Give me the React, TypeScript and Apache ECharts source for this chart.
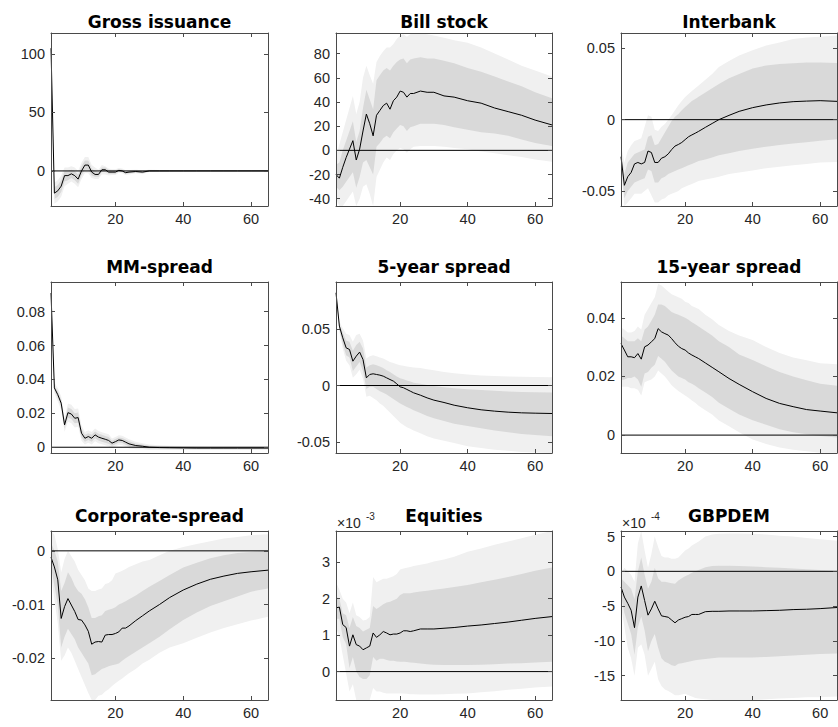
import React, { useEffect, useRef } from "react";
import * as echarts from "echarts";

const X = [1, 2, 3, 4, 5, 6, 7, 8, 9, 10, 11, 12, 13, 14, 15, 16, 17, 18, 19, 20, 21, 22, 23, 24, 26, 28, 30, 33, 36, 40, 44, 48, 52, 56, 60, 65];
const X_TICKS = [20, 40, 60];

// ---- Gross issuance
const grossMed = [105, -19, -17, -13, -4, -4, -2.5, -4, -7, 0, 5, 5, -1, -3, -3, 1, 1, -1, -1, -1, 0.5, 0, -1.5, -1, -0.5, -1, 0, 0, 0, 0, 0, 0, 0, 0, 0, 0];
const grossHi68 = [105, -14, -12, -8, 0, 0, 1, 0, -3, 4, 9, 9, 2, 0, -1, 3, 3, 1, 0.5, 0.5, 1.5, 1, -0.5, 0, 0.3, 0, 0.5, 0.4, 0.3, 0.2, 0.2, 0.1, 0.1, 0.1, 0.1, 0.1];
const grossLo68 = [105, -24, -22, -18, -9, -8, -6, -8, -11, -4, 1, 1, -4, -5, -5, -1, -1, -2.5, -2.5, -2.5, -0.5, -1, -2.5, -2, -1.3, -2, -0.5, -0.4, -0.3, -0.2, -0.2, -0.1, -0.1, -0.1, -0.1, -0.1];
const grossHi90 = [105, -10, -8, -4, 3, 3, 4, 3, 0, 7, 12, 12, 5, 3, 1, 5, 4, 2, 1.5, 1.5, 2.5, 2, 0.5, 0.8, 1, 0.6, 1, 0.8, 0.6, 0.4, 0.3, 0.2, 0.2, 0.2, 0.2, 0.2];
const grossLo90 = [105, -28, -26, -22, -13, -11, -9, -11, -14, -7, -2, -2, -6, -7, -7, -3, -3, -4, -3.5, -3.5, -1.5, -2, -3.5, -3, -2, -2.6, -1, -0.8, -0.6, -0.4, -0.3, -0.2, -0.2, -0.2, -0.2, -0.2];
const grossTicks = [0, 50, 100];

// ---- Bill stock
const billMed = [-20, -23, -14, -6, 1, 8, -8, 1, 16, 30, 22, 12, 29, 33, 37, 39, 34, 41, 44, 49, 48, 44, 47, 47, 49, 48, 48, 45, 44, 41, 39, 35, 32, 29, 25, 21];
const billHi68 = [-12, -10, 0, 8, 16, 24, 7, 16, 35, 50, 42, 34, 58, 62, 66, 68, 66, 70, 73, 75, 76, 72, 75, 76, 77, 76, 76, 74, 72, 68, 65, 61, 57, 53, 48, 43];
const billLo68 = [-30, -33, -30, -26, -22, -18, -31, -22, -10, -8, -14, -20, 3, 6, 10, 12, 10, 15, 18, 21, 20, 16, 19, 20, 22, 22, 22, 21, 19, 17, 15, 14, 12, 9, 6, 3.5];
const billHi90 = [-5, 5, 15, 25, 35, 45, 30, 40, 60, 70, 62, 55, 73, 78, 82, 85, 85, 88, 92, 95, 96, 94, 96, 97, 97, 96, 95, 93, 91, 89, 85, 80, 75, 70, 66, 61];
const billLo90 = [-40, -46, -46, -42, -38, -34, -46, -40, -30, -28, -36, -46, -22, -16, -10, -6, -8, -3, 0, 2, 1, -2, 1, 3, 3.5, 3.5, 3.5, 3, 2, 1, -1, -2.5, -4, -5.5, -7.5, -9.5];
const billTicks = [-40, -20, 0, 20, 40, 60, 80];

// ---- Interbank
const ibMed = [-0.026, -0.046, -0.04, -0.037, -0.031, -0.03, -0.031, -0.03, -0.022, -0.023, -0.03, -0.03, -0.027, -0.026, -0.024, -0.021, -0.0185, -0.0174, -0.016, -0.014, -0.012, -0.0107, -0.0095, -0.0082, -0.0054, -0.0027, 0, 0.003, 0.0058, 0.0084, 0.0103, 0.0117, 0.0126, 0.013, 0.0133, 0.0128];
const ibHi68 = [-0.022, -0.038, -0.03, -0.027, -0.024, -0.023, -0.022, -0.021, -0.012, -0.011, -0.018, -0.017, -0.013, -0.009, -0.005, -0.001, 0.002, 0.004, 0.0065, 0.0088, 0.011, 0.013, 0.0145, 0.016, 0.019, 0.022, 0.025, 0.029, 0.032, 0.0358, 0.038, 0.039, 0.0395, 0.04, 0.04, 0.0397];
const ibLo68 = [-0.03, -0.055, -0.05, -0.047, -0.044, -0.043, -0.042, -0.041, -0.035, -0.036, -0.044, -0.044, -0.041, -0.04, -0.038, -0.037, -0.036, -0.035, -0.034, -0.033, -0.032, -0.031, -0.03, -0.029, -0.028, -0.0265, -0.025, -0.0235, -0.022, -0.0204, -0.019, -0.0177, -0.0167, -0.0158, -0.0148, -0.0138];
const ibHi90 = [-0.018, -0.03, -0.022, -0.018, -0.015, -0.014, -0.013, -0.005, 0.003, 0.002, -0.007, -0.008, -0.005, -0.003, 0, 0.003, 0.0065, 0.01, 0.013, 0.0158, 0.018, 0.02, 0.022, 0.024, 0.028, 0.032, 0.0369, 0.041, 0.045, 0.0486, 0.052, 0.054, 0.0565, 0.0575, 0.058, 0.059];
const ibLo90 = [-0.034, -0.0605, -0.058, -0.055, -0.052, -0.052, -0.052, -0.05, -0.048, -0.053, -0.058, -0.058, -0.056, -0.055, -0.053, -0.052, -0.051, -0.05, -0.048, -0.047, -0.046, -0.045, -0.044, -0.043, -0.042, -0.041, -0.04, -0.038, -0.037, -0.0356, -0.034, -0.033, -0.032, -0.031, -0.03, -0.0297];
const ibTicks = [-0.05, 0, 0.05];

// ---- MM-spread
const mmMed = [0.091, 0.035, 0.031, 0.026, 0.0132, 0.0204, 0.0196, 0.0171, 0.0175, 0.0083, 0.0053, 0.0063, 0.0053, 0.0073, 0.006, 0.0053, 0.0047, 0.004, 0.0024, 0.0033, 0.0043, 0.004, 0.003, 0.002, 0.001, 0.0006, 0, -0.0002, -0.0003, -0.0004, -0.0005, -0.0005, -0.0005, -0.0005, -0.0005, -0.0005];
const mmHi68 = [0.091, 0.0365, 0.033, 0.028, 0.0152, 0.0234, 0.0226, 0.0201, 0.0205, 0.0108, 0.0073, 0.0083, 0.0073, 0.0093, 0.008, 0.0073, 0.0067, 0.006, 0.0039, 0.0048, 0.0058, 0.0055, 0.0045, 0.0035, 0.0022, 0.0016, 0.0009, 0.0006, 0.0004, 0.0002, 0.0001, 0.0001, 0.0001, 0.0001, 0.0001, 0.0001];
const mmLo68 = [0.091, 0.0335, 0.029, 0.024, 0.0112, 0.0174, 0.0166, 0.0141, 0.0145, 0.0058, 0.0033, 0.0043, 0.0033, 0.0053, 0.004, 0.0033, 0.0027, 0.002, 0.0009, 0.0018, 0.0028, 0.0025, 0.0015, 0.0005, -0.0002, -0.0004, -0.0009, -0.001, -0.001, -0.001, -0.0011, -0.0011, -0.0011, -0.0011, -0.0011, -0.0011];
const mmHi90 = [0.091, 0.038, 0.035, 0.03, 0.0172, 0.0258, 0.025, 0.0225, 0.0229, 0.0128, 0.009, 0.01, 0.009, 0.011, 0.0096, 0.0089, 0.0083, 0.0076, 0.0052, 0.0061, 0.0071, 0.0068, 0.0058, 0.0047, 0.0032, 0.0024, 0.0016, 0.0012, 0.0009, 0.0007, 0.0006, 0.0005, 0.0005, 0.0005, 0.0005, 0.0005];
const mmLo90 = [0.091, 0.032, 0.027, 0.022, 0.0092, 0.015, 0.0142, 0.0117, 0.0121, 0.0038, 0.0016, 0.0026, 0.0016, 0.0036, 0.0024, 0.0017, 0.0011, 0.0004, -0.0004, 0.0005, 0.0015, 0.0012, 0.0002, -0.0007, -0.0012, -0.0012, -0.0016, -0.0016, -0.0016, -0.0016, -0.0016, -0.0016, -0.0016, -0.0016, -0.0016, -0.0016];
const mmTicks = [0, 0.02, 0.04, 0.06, 0.08];

// ---- 5-year spread
const y5Med = [0.0824, 0.0528, 0.0424, 0.0335, 0.032, 0.0216, 0.0261, 0.0297, 0.0231, 0.0068, 0.0098, 0.0104, 0.0098, 0.0092, 0.0083, 0.0068, 0.0053, 0.0039, 0.0015, -0.0012, -0.002, -0.0035, -0.005, -0.0065, -0.0086, -0.011, -0.013, -0.0151, -0.0175, -0.0198, -0.0216, -0.0228, -0.0237, -0.0243, -0.0246, -0.0249];
const y5Hi68 = [0.0824, 0.055, 0.047, 0.04, 0.039, 0.031, 0.036, 0.039, 0.033, 0.016, 0.018, 0.019, 0.018, 0.017, 0.0155, 0.0135, 0.012, 0.01, 0.008, 0.0065, 0.0055, 0.0045, 0.0035, 0.0025, 0.0015, 0.0005, -0.0005, -0.0015, -0.0025, -0.0033, -0.004, -0.0047, -0.0053, -0.0058, -0.0061, -0.0063];
const y5Lo68 = [0.0824, 0.05, 0.037, 0.027, 0.025, 0.013, 0.017, 0.021, 0.013, -0.003, -0.001, -0.001, -0.003, -0.005, -0.0065, -0.008, -0.01, -0.012, -0.014, -0.016, -0.0175, -0.019, -0.0205, -0.022, -0.0245, -0.027, -0.029, -0.0315, -0.034, -0.036, -0.038, -0.04, -0.0415, -0.043, -0.044, -0.045];
const y5Hi90 = [0.0824, 0.057, 0.051, 0.046, 0.045, 0.039, 0.045, 0.046, 0.04, 0.024, 0.026, 0.027, 0.026, 0.025, 0.024, 0.0225, 0.021, 0.02, 0.019, 0.018, 0.0175, 0.017, 0.0165, 0.016, 0.0155, 0.0145, 0.0135, 0.012, 0.011, 0.0098, 0.009, 0.0085, 0.008, 0.0077, 0.0075, 0.0074];
const y5Lo90 = [0.0824, 0.048, 0.033, 0.022, 0.018, 0.007, 0.01, 0.014, 0.006, -0.01, -0.009, -0.011, -0.013, -0.016, -0.018, -0.021, -0.024, -0.027, -0.03, -0.033, -0.035, -0.037, -0.0385, -0.04, -0.0425, -0.045, -0.047, -0.049, -0.051, -0.054, -0.0555, -0.057, -0.058, -0.059, -0.0595, -0.06];
const y5Ticks = [-0.05, 0, 0.05];

// ---- 15-year spread
const y15Med = [0.0312, 0.029, 0.0267, 0.0267, 0.0264, 0.0278, 0.0259, 0.0301, 0.0307, 0.0318, 0.0329, 0.0363, 0.0352, 0.0346, 0.0341, 0.0329, 0.0315, 0.0303, 0.0295, 0.029, 0.028, 0.0273, 0.0267, 0.0261, 0.0246, 0.0231, 0.0216, 0.0193, 0.0173, 0.0148, 0.0125, 0.0108, 0.0097, 0.0087, 0.0082, 0.0076];
const y15Hi68 = [0.034, 0.033, 0.032, 0.032, 0.032, 0.033, 0.032, 0.036, 0.037, 0.039, 0.041, 0.0445, 0.0445, 0.044, 0.043, 0.042, 0.0415, 0.041, 0.0405, 0.04, 0.0393, 0.0385, 0.0378, 0.037, 0.0355, 0.034, 0.032, 0.03, 0.0275, 0.0256, 0.0235, 0.0215, 0.02, 0.0187, 0.0175, 0.0168];
const y15Lo68 = [0.0187, 0.019, 0.0195, 0.0195, 0.02, 0.019, 0.0165, 0.021, 0.0215, 0.023, 0.024, 0.027, 0.026, 0.025, 0.0235, 0.022, 0.021, 0.02, 0.0195, 0.019, 0.018, 0.0175, 0.0168, 0.016, 0.0145, 0.013, 0.011, 0.009, 0.007, 0.0051, 0.0035, 0.002, 0.001, 0.0003, -0.0003, -0.0008];
const y15Hi90 = [0.0367, 0.036, 0.035, 0.035, 0.0355, 0.037, 0.036, 0.041, 0.043, 0.045, 0.047, 0.0515, 0.051, 0.05, 0.049, 0.048, 0.0475, 0.047, 0.0465, 0.0455, 0.045, 0.044, 0.0435, 0.043, 0.041, 0.0395, 0.0375, 0.0355, 0.034, 0.0324, 0.03, 0.028, 0.0265, 0.0255, 0.0245, 0.0242];
const y15Lo90 = [0.0165, 0.0165, 0.0165, 0.016, 0.016, 0.0155, 0.0135, 0.018, 0.0185, 0.019, 0.02, 0.022, 0.021, 0.02, 0.0185, 0.017, 0.016, 0.015, 0.0143, 0.0135, 0.0127, 0.0118, 0.011, 0.01, 0.0085, 0.007, 0.005, 0.003, 0.001, -0.0015, -0.003, -0.0042, -0.005, -0.0055, -0.006, -0.0061];
const y15Ticks = [0, 0.02, 0.04];

// ---- Corporate-spread
const corpMed = [-0.0012, -0.003, -0.0054, -0.0126, -0.0104, -0.0089, -0.0101, -0.0113, -0.0128, -0.0129, -0.0138, -0.015, -0.0174, -0.017, -0.0169, -0.017, -0.0157, -0.0156, -0.0156, -0.0154, -0.0151, -0.0144, -0.0144, -0.014, -0.013, -0.0121, -0.0112, -0.01, -0.0087, -0.0073, -0.0062, -0.0053, -0.0047, -0.0042, -0.0039, -0.0036];
const corpHi68 = [0.0015, 0, -0.002, -0.0075, -0.006, -0.004, -0.005, -0.0065, -0.0075, -0.008, -0.009, -0.0105, -0.0125, -0.0125, -0.0122, -0.012, -0.0112, -0.011, -0.0108, -0.0105, -0.01, -0.0097, -0.0094, -0.009, -0.0083, -0.0075, -0.0067, -0.0056, -0.0045, -0.0031, -0.0022, -0.0014, -0.0008, -0.0004, -0.0002, 0];
const corpLo68 = [-0.003, -0.0065, -0.01, -0.018, -0.016, -0.0145, -0.0155, -0.0165, -0.018, -0.019, -0.02, -0.021, -0.0232, -0.023, -0.0225, -0.022, -0.0218, -0.0215, -0.0213, -0.0212, -0.021, -0.0205, -0.02, -0.0196, -0.0188, -0.018, -0.0172, -0.016, -0.0146, -0.0129, -0.0115, -0.0103, -0.0094, -0.0085, -0.0076, -0.007];
const corpHi90 = [0.0037, 0.003, 0.0003, -0.004, -0.0015, 0, -0.001, -0.002, -0.0035, -0.0045, -0.0055, -0.007, -0.0075, -0.0075, -0.0072, -0.007, -0.0062, -0.006, -0.0055, -0.0042, -0.004, -0.0037, -0.0034, -0.003, -0.0025, -0.002, -0.0017, -0.0008, 0, 0.0007, 0.0013, 0.0018, 0.0023, 0.0026, 0.0029, 0.0031];
const corpLo90 = [-0.0045, -0.009, -0.0135, -0.0205, -0.0195, -0.018, -0.019, -0.0205, -0.022, -0.0235, -0.025, -0.0265, -0.0278, -0.0278, -0.027, -0.0268, -0.0262, -0.0258, -0.0252, -0.0247, -0.0242, -0.0238, -0.0233, -0.0228, -0.022, -0.021, -0.0203, -0.019, -0.018, -0.0172, -0.0162, -0.0152, -0.0144, -0.0137, -0.013, -0.0123];
const corpTicks = [-0.02, -0.01, 0];

// ---- Equities (in units of 1e-3)
const eqMed = [1.75, 1.77, 1.29, 1.21, 0.7, 1.01, 0.74, 0.7, 0.6, 0.65, 0.7, 1.06, 0.94, 1.01, 1.1, 1.06, 1.01, 1.03, 1.03, 1.06, 1.12, 1.12, 1.1, 1.12, 1.17, 1.17, 1.17, 1.19, 1.21, 1.25, 1.28, 1.32, 1.36, 1.41, 1.46, 1.51];
const eqHi68 = [2.06, 2.0, 1.6, 1.55, 1.2, 1.5, 1.25, 1.2, 1.1, 1.15, 1.2, 1.8, 1.72, 1.78, 1.85, 1.9, 1.92, 1.96, 2.0, 2.1, 2.15, 2.15, 2.15, 2.17, 2.2, 2.22, 2.25, 2.28, 2.32, 2.38, 2.45, 2.52, 2.6, 2.68, 2.77, 2.86];
const eqLo68 = [1.45, 1.45, 0.95, 0.75, 0.1, 0.4, 0, -0.15, -0.2, -0.2, -0.1, 0.4, 0.3, 0.35, 0.35, 0.32, 0.3, 0.3, 0.28, 0.27, 0.27, 0.26, 0.25, 0.24, 0.22, 0.2, 0.19, 0.18, 0.18, 0.18, 0.19, 0.2, 0.22, 0.23, 0.25, 0.27];
const eqHi90 = [2.45, 2.25, 2.0, 1.9, 1.6, 1.9, 1.55, 1.5, 1.4, 1.42, 1.5, 2.6, 2.45, 2.5, 2.55, 2.55, 2.58, 2.62, 2.68, 2.8, 2.83, 2.85, 2.87, 2.9, 2.93, 2.97, 3.02, 3.08, 3.15, 3.29, 3.38, 3.48, 3.57, 3.66, 3.76, 3.86];
const eqLo90 = [1.2, 0.95, 0.45, -0.05, -0.55, -0.35, -0.78, -0.78, -0.78, -0.78, -0.78, -0.45, -0.55, -0.55, -0.58, -0.6, -0.6, -0.6, -0.6, -0.6, -0.6, -0.61, -0.62, -0.62, -0.63, -0.63, -0.63, -0.62, -0.61, -0.6, -0.57, -0.54, -0.5, -0.47, -0.44, -0.41];
const eqTicks = [0, 1, 2, 3];

// ---- GBPDEM (in units of 1e-4)
const fxMed = [-2.25, -3.7, -4.6, -5.6, -8.1, -3.7, -2.1, -4.2, -6.3, -5.4, -4.3, -5.4, -6.4, -6.5, -6.6, -7.0, -7.4, -7.0, -6.8, -6.6, -6.5, -6.2, -6.2, -6.2, -5.8, -5.75, -5.75, -5.7, -5.7, -5.7, -5.65, -5.6, -5.5, -5.45, -5.36, -5.2];
const fxHi68 = [-1.0, -1.5, -2.0, -2.5, -4.0, 0, 2.0, -0.5, -2.5, -1.5, 0.5, -1.0, -1.5, -1.5, -1.6, -1.7, -1.8, -1.3, -1.0, -0.7, -0.5, -0.2, 0, 0.2, 0.6, 0.75, 0.8, 0.8, 0.75, 0.7, 0.6, 0.5, 0.4, 0.3, 0.2, 0.1];
const fxLo68 = [-3.5, -6.0, -7.5, -9.0, -12.0, -8.0, -6.5, -8.5, -11.5, -10.0, -9.0, -11.0, -12.5, -13.0, -13.2, -13.5, -13.6, -13.3, -13.2, -13.1, -13.0, -12.9, -12.8, -12.7, -12.6, -12.5, -12.4, -12.4, -12.4, -12.4, -12.3, -12.2, -12.1, -12.0, -11.9, -11.8];
const fxHi90 = [-0.3, 0.5, 0, -0.5, -1.5, 4.0, 5.8, 3.0, 0.5, 2.5, 5.0, 3.5, 2.2, 2.0, 2.0, 1.8, 1.8, 2.0, 2.5, 3.0, 3.3, 3.7, 4.0, 4.3, 5.0, 5.3, 5.4, 5.45, 5.45, 5.4, 5.3, 5.1, 5.0, 4.8, 4.6, 4.4];
const fxLo90 = [-5.0, -8.0, -11.0, -12.5, -15.0, -11.0, -10.5, -12.0, -15.0, -14.0, -13.0, -15.5, -16.5, -17.0, -17.2, -17.5, -17.8, -17.8, -17.7, -17.6, -17.8, -18.0, -18.2, -18.3, -18.4, -18.5, -18.5, -18.5, -18.5, -18.5, -18.4, -18.3, -18.2, -18.1, -18.1, -18.0];
const fxTicks = [-15, -10, -5, 0, 5];

const PANELS = [
  { title: "Gross issuance", med: grossMed, hi68: grossHi68, lo68: grossLo68, hi90: grossHi90, lo90: grossLo90, ticks: grossTicks, min: -30, max: 118, exp: "" },
  { title: "Bill stock", med: billMed, hi68: billHi68, lo68: billLo68, hi90: billHi90, lo90: billLo90, ticks: billTicks, min: -46, max: 97, exp: "" },
  { title: "Interbank", med: ibMed, hi68: ibHi68, lo68: ibLo68, hi90: ibHi90, lo90: ibLo90, ticks: ibTicks, min: -0.0605, max: 0.0607, exp: "" },
  { title: "MM-spread", med: mmMed, hi68: mmHi68, lo68: mmLo68, hi90: mmHi90, lo90: mmLo90, ticks: mmTicks, min: -0.0034, max: 0.0975, exp: "" },
  { title: "5-year spread", med: y5Med, hi68: y5Hi68, lo68: y5Lo68, hi90: y5Hi90, lo90: y5Lo90, ticks: y5Ticks, min: -0.06, max: 0.092, exp: "" },
  { title: "15-year spread", med: y15Med, hi68: y15Hi68, lo68: y15Lo68, hi90: y15Hi90, lo90: y15Lo90, ticks: y15Ticks, min: -0.0061, max: 0.0522, exp: "" },
  { title: "Corporate-spread", med: corpMed, hi68: corpHi68, lo68: corpLo68, hi90: corpHi90, lo90: corpLo90, ticks: corpTicks, min: -0.0278, max: 0.0037, exp: "" },
  { title: "Equities", med: eqMed, hi68: eqHi68, lo68: eqLo68, hi90: eqHi90, lo90: eqLo90, ticks: eqTicks, min: -0.78, max: 3.86, exp: "-3" },
  { title: "GBPDEM", med: fxMed, hi68: fxHi68, lo68: fxLo68, hi90: fxHi90, lo90: fxLo90, ticks: fxTicks, min: -18.5, max: 5.8, exp: "-4" },
];

const COL_LEFT = [51, 336, 621];
const COL_W = [217, 216, 216];
const ROW_TOP = [33, 282, 531];
const ROW_H = [173, 171, 169];
const TITLE_Y = [13, 258, 507];

const FONT = "'Liberation Sans', Arial, Helvetica, sans-serif";
const TITLE_FONT = "'DejaVu Sans', 'Liberation Sans', Arial, sans-serif";
const AX = "#262626";
const BOX = "#4a4a4a";
const LIGHT = "#f0f0f0";
const DARK = "#d9d9d9";

function buildOption() {
  const grid: any[] = [];
  const xAxis: any[] = [];
  const yAxis: any[] = [];
  const series: any[] = [];
  const graphic: any[] = [];

  PANELS.forEach((p, i) => {
    const r = Math.floor(i / 3);
    const c = i % 3;
    const left = COL_LEFT[c];
    const top = ROW_TOP[r];
    const w = COL_W[c];
    const h = ROW_H[r];
    grid.push({ left, top, width: w, height: h, containLabel: false, show: false });

    const axisLine = { show: true, onZero: false, lineStyle: { color: BOX, width: 1 } };
    const tickStyle = { color: BOX, width: 1 };
    ["bottom", "top"].forEach((pos) => {
      xAxis.push({
        gridIndex: i, type: "value", min: 1, max: 65, position: pos, z: 10,
        axisLine,
        axisTick: { show: true, inside: true, length: 4, customValues: X_TICKS, lineStyle: tickStyle },
        axisLabel: pos === "bottom"
          ? { show: true, customValues: X_TICKS, fontSize: 14.5, fontFamily: FONT, color: AX, margin: 5 }
          : { show: false },
        splitLine: { show: false },
      });
    });
    ["left", "right"].forEach((pos) => {
      yAxis.push({
        gridIndex: i, type: "value", min: p.min, max: p.max, position: pos, z: 10,
        axisLine,
        axisTick: { show: true, inside: true, length: 4, customValues: p.ticks, lineStyle: tickStyle },
        axisLabel: pos === "left"
          ? { show: true, customValues: p.ticks, fontSize: 14.5, fontFamily: FONT, color: AX, margin: 6, formatter: (v: number) => String(v) }
          : { show: false },
        splitLine: { show: false },
      });
    });

    const xi = i * 2;
    const yi = i * 2;
    const base = { type: "line", xAxisIndex: xi, yAxisIndex: yi, symbol: "none", silent: true, smooth: false };
    const bandLayer = (vals: number[], color: string) => ({
      ...base,
      data: X.map((x, k) => [x, vals[k]]),
      lineStyle: { width: 0, opacity: 0 },
      areaStyle: { color, opacity: 1, origin: "start" },
    });
    // nested bands painted from the outside in: 90% upper, 68% upper, 68% lower, 90% lower
    series.push(bandLayer(p.hi90, LIGHT));
    series.push(bandLayer(p.hi68, DARK));
    series.push(bandLayer(p.lo68, LIGHT));
    series.push(bandLayer(p.lo90, "#ffffff"));
    series.push({ ...base, data: [[1, 0], [65, 0]], lineStyle: { color: "#000", width: 1 } });
    series.push({ ...base, data: X.map((x, k) => [x, p.med[k]]), lineStyle: { color: "#000", width: 1 } });

    graphic.push({
      type: "text", x: left + w / 2, y: TITLE_Y[r], z: 20,
      style: { text: p.title, fontFamily: TITLE_FONT, fontSize: 17, fontWeight: "bold", fill: "#000", textAlign: "center", textVerticalAlign: "top" },
    });
    if (p.exp) {
      graphic.push({
        type: "text", x: left + 1, y: top - 15, z: 20,
        style: { text: "×10", fontFamily: FONT, fontSize: 14, fill: AX, textAlign: "left", textVerticalAlign: "top" },
      });
      graphic.push({
        type: "text", x: left + 30, y: top - 20, z: 20,
        style: { text: p.exp, fontFamily: FONT, fontSize: 10, fill: AX, textAlign: "left", textVerticalAlign: "top" },
      });
    }
  });

  return { animation: false, backgroundColor: "#fff", grid, xAxis, yAxis, series, graphic };
}

export default function App() {
  const ref = useRef<HTMLDivElement>(null);
  useEffect(() => {
    if (!ref.current) return;
    const chart = echarts.init(ref.current, undefined, { renderer: "svg" });
    chart.setOption(buildOption() as any);
    return () => chart.dispose();
  }, []);
  return <div ref={ref} style={{ position: "fixed", left: 0, top: 0, width: 838, height: 727, background: "#fff" }} />;
}
